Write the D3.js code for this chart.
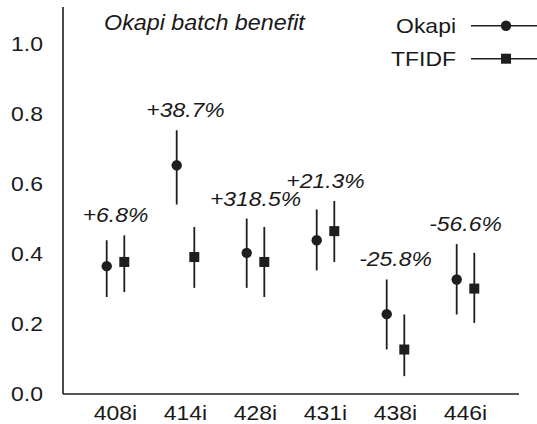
<!DOCTYPE html>
<html>
<head>
<meta charset="utf-8">
<script src="https://cdn.jsdelivr.net/npm/d3@7"></script>
<style>
  body { margin: 0; background: #fff; }
  svg text { font-family: "Liberation Sans", Arial, sans-serif; fill: #1a1a1a; }
</style>
</head>
<body>
<div id="chart"></div>
<script>
// query ids and scores (mean with low/high range)
const categories = ["408i", "414i", "428i", "431i", "438i", "446i"];
const okapiMean = [0.365, 0.653, 0.403, 0.439, 0.228, 0.327];
const okapiLow  = [0.277, 0.541, 0.303, 0.353, 0.127, 0.227];
const okapiHigh = [0.439, 0.753, 0.501, 0.527, 0.327, 0.428];
const tfidfMean = [0.377, 0.391, 0.377, 0.465, 0.127, 0.301];
const tfidfLow  = [0.291, 0.303, 0.277, 0.377, 0.051, 0.203];
const tfidfHigh = [0.453, 0.477, 0.477, 0.551, 0.227, 0.403];
const benefit = ["+6.8%", "+38.7%", "+318.5%", "+21.3%", "-25.8%", "-56.6%"];
const yTicks = [0, 0.2, 0.4, 0.6, 0.8, 1.0];
const seriesNames = ["Okapi", "TFIDF"];

function chart() {
    const width = 537, height = 424;
    const ink = "#1e1e1e";
    const fs = 20.5, sx = 1.12;   // text looks horizontally stretched in the original

    const svg = d3.select("#chart").append("svg")
        .attr("width", width)
        .attr("height", height);

    const x = d3.scalePoint().domain(categories).range([115.5, 465.5]);
    const y = d3.scaleLinear().domain([0, 1.105]).range([394, 7]);
    const off = 8.8;

    // stretched text helper
    function label(g, tx, ty, txt, anchor, italic, size, stretch) {
        return g.append("text")
            .attr("transform", `translate(${tx},${ty}) scale(${stretch || sx},1)`)
            .attr("text-anchor", anchor)
            .attr("font-size", size || fs)
            .attr("font-style", italic ? "italic" : "normal")
            .text(txt);
    }

    // axes (no tick marks, just the two lines)
    svg.append("line")
        .attr("x1", 63).attr("x2", 63)
        .attr("y1", y.range()[1]).attr("y2", y(0))
        .attr("stroke", ink).attr("stroke-width", 1.6);
    svg.append("line")
        .attr("x1", 63).attr("x2", 519)
        .attr("y1", y(0)).attr("y2", y(0))
        .attr("stroke", ink).attr("stroke-width", 1.6);

    yTicks.forEach(t => {
        label(svg, 43, y(t), d3.format(".1f")(t), "end").attr("dy", "0.35em");
    });
    categories.forEach(c => {
        label(svg, x(c), 419.5, c, "middle");
    });

    // error bars + markers
    const plot = svg.append("g");
    categories.forEach((c, i) => {
        const xo = x(c) - off, xt = x(c) + off;
        plot.append("line")
            .attr("x1", xo).attr("x2", xo)
            .attr("y1", y(okapiLow[i])).attr("y2", y(okapiHigh[i]))
            .attr("stroke", ink).attr("stroke-width", 1.8);
        plot.append("circle")
            .attr("cx", xo).attr("cy", y(okapiMean[i]))
            .attr("r", 5.2).attr("fill", ink);
        plot.append("line")
            .attr("x1", xt).attr("x2", xt)
            .attr("y1", y(tfidfLow[i])).attr("y2", y(tfidfHigh[i]))
            .attr("stroke", ink).attr("stroke-width", 1.8);
        plot.append("rect")
            .attr("x", xt - 5).attr("y", y(tfidfMean[i]) - 5)
            .attr("width", 10).attr("height", 10)
            .attr("fill", ink);

        // benefit label above the taller bar
        const top = Math.min(y(okapiHigh[i]), y(tfidfHigh[i]));
        label(plot, x(c), top - 13, benefit[i], "middle", true);
    });

    // title
    label(svg, 104, 30, "Okapi batch benefit", "start", true, 22, 1.06);

    // legend
    const leg = svg.append("g");
    seriesNames.forEach((s, i) => {
        const ly = 25.7 + i * 33;
        label(leg, 456, ly, s, "end").attr("dy", "0.35em");
        leg.append("line")
            .attr("x1", 471).attr("x2", 542)
            .attr("y1", ly).attr("y2", ly)
            .attr("stroke", ink).attr("stroke-width", 1.6);
        if (i === 0) {
            leg.append("circle").attr("cx", 506).attr("cy", ly).attr("r", 5.2).attr("fill", ink);
        } else {
            leg.append("rect").attr("x", 501).attr("y", ly - 5)
                .attr("width", 10).attr("height", 10).attr("fill", ink);
        }
    });
}
chart();
</script>
</body>
</html>
